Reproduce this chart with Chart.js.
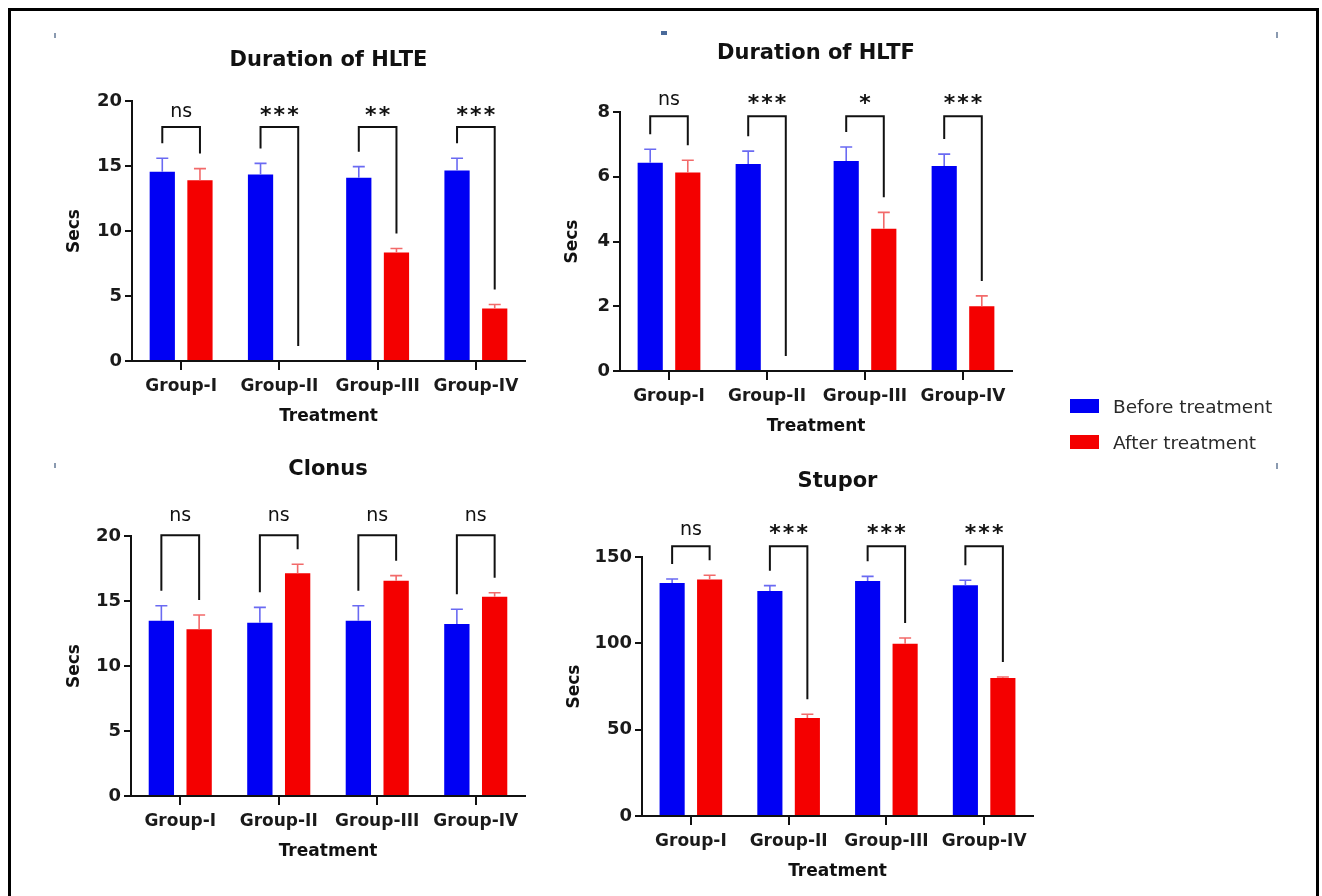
<!DOCTYPE html>
<html>
<head>
<meta charset="utf-8">
<script src="https://cdn.jsdelivr.net/npm/chart.js@4.4.1/dist/chart.umd.min.js"></script>
<style>
  html, body { margin: 0; padding: 0; background: #fff; }
  #page { position: relative; width: 1322px; height: 896px; overflow: hidden; background: #fff; }
  canvas.panel { position: absolute; left: 0; top: 0; }
  .frame { position: absolute; background: #000; }
  .speck { position: absolute; background: #8a9ab0; }
  #legend { position: absolute; left: 1070px; top: 388px; font-family: "DejaVu Sans", sans-serif; font-size: 18.5px; color: #2a2a2a; }
  .lg-row { display: flex; align-items: center; height: 36px; white-space: nowrap; }
  .sw { display: inline-block; width: 29px; height: 14px; margin-right: 14px; }
</style>
</head>
<body>
<div id="page">
  <div class="frame" style="left:8px;top:8px;width:1311px;height:3px"></div>
  <div class="frame" style="left:8px;top:8px;width:3px;height:888px"></div>
  <div class="frame" style="left:1316px;top:8px;width:3px;height:888px"></div>
  <div class="speck" style="left:54px;top:33px;width:2px;height:5px"></div>
  <div class="speck" style="left:661px;top:31px;width:6px;height:4px;background:#4a6a9a"></div>
  <div class="speck" style="left:1276px;top:32px;width:2px;height:6px"></div>
  <div class="speck" style="left:54px;top:463px;width:2px;height:5px"></div>
  <div class="speck" style="left:1276px;top:463px;width:2px;height:6px"></div>
  <canvas id="hlte" class="panel" width="1322" height="896"></canvas>
  <canvas id="hltf" class="panel" width="1322" height="896"></canvas>
  <canvas id="clonus" class="panel" width="1322" height="896"></canvas>
  <canvas id="stupor" class="panel" width="1322" height="896"></canvas>
  <div id="legend"></div>
</div>
<script>
// categories and series
const groups = ['Group-I', 'Group-II', 'Group-III', 'Group-IV'];
const seriesNames = ['Before treatment', 'After treatment'];

// Duration of HLTE (secs), mean and SEM
const hlteBefore = [14.55, 14.35, 14.1, 14.65];
const hlteBeforeSem = [1.05, 0.85, 0.85, 0.95];
const hlteAfter = [13.9, 0, 8.35, 4.03];
const hlteAfterSem = [0.9, 0, 0.3, 0.32];
const hlteSig = ['ns', '***', '**', '***'];

// Duration of HLTF
const hltfBefore = [6.43, 6.39, 6.49, 6.33];
const hltfBeforeSem = [0.42, 0.4, 0.43, 0.37];
const hltfAfter = [6.13, 0, 4.39, 2.0];
const hltfAfterSem = [0.38, 0, 0.51, 0.32];
const hltfSig = ['ns', '***', '*', '***'];

// Clonus
const clonusBefore = [13.48, 13.33, 13.48, 13.23];
const clonusBeforeSem = [1.16, 1.18, 1.16, 1.13];
const clonusAfter = [12.82, 17.13, 16.56, 15.33];
const clonusAfterSem = [1.1, 0.7, 0.39, 0.31];
const clonusSig = ['ns', 'ns', 'ns', 'ns'];

// Stupor
const stuporBefore = [134.9, 130.3, 136.1, 133.6];
const stuporBeforeSem = [2.4, 3.1, 2.7, 2.9];
const stuporAfter = [136.9, 56.8, 99.8, 79.9];
const stuporAfterSem = [2.5, 2.1, 3.3, 0.6];
const stuporSig = ['ns', '***', '***', '***'];

// styles
const barColors = ['#0000f4', '#f40000'];
const errColors = ['#6a6af2', '#f26a6a'];
const ink = '#111';
const yAxisW = 80, xAxisH = 70;

Chart.defaults.font.family = '"DejaVu Sans", sans-serif';

const panels = [
  { id: 'hlte', title: 'Duration of HLTE', means: [hlteBefore, hlteAfter], sem: [hlteBeforeSem, hlteAfterSem],
    sig: hlteSig, max: 20, step: 5, level: 18, labelGap: 16,
    area: { left: 132, top: 101, right: 525, bottom: 361 }, titleY: 60.7, secsX: 75 },
  { id: 'hltf', title: 'Duration of HLTF', means: [hltfBefore, hltfAfter], sem: [hltfBeforeSem, hltfAfterSem],
    sig: hltfSig, max: 8, step: 2, level: 7.87, labelGap: 17,
    area: { left: 620, top: 112, right: 1012, bottom: 371 }, titleY: 53.3, secsX: 573 },
  { id: 'clonus', title: 'Clonus', means: [clonusBefore, clonusAfter], sem: [clonusBeforeSem, clonusAfterSem],
    sig: clonusSig, max: 20, step: 5, level: 20.05, labelGap: 20,
    area: { left: 131, top: 536, right: 525, bottom: 796 }, titleY: 469.3, secsX: 75 },
  { id: 'stupor', title: 'Stupor', means: [stuporBefore, stuporAfter], sem: [stuporBeforeSem, stuporAfterSem],
    sig: stuporSig, max: 150, step: 50, level: 156.2, labelGap: 17,
    area: { left: 642, top: 557, right: 1033, bottom: 816 }, titleY: 481.7, secsX: 575 }
];

// error bars + significance brackets, placed through the chart's own scales
function makeMarks(p) {
  return {
    id: 'marks',
    afterDatasetsDraw(chart) {
      const ctx = chart.ctx, y = chart.scales.y;
      const bars = [chart.getDatasetMeta(0).data, chart.getDatasetMeta(1).data];
      ctx.save();
      ctx.lineCap = 'butt';
      p.sem.forEach((sems, s) => {
        ctx.strokeStyle = errColors[s];
        ctx.lineWidth = 1.6;
        sems.forEach((e, i) => {
          if (!e) return;
          const b = bars[s][i];
          const top = y.getPixelForValue(p.means[s][i] + e);
          ctx.beginPath();
          ctx.moveTo(b.x, b.y);
          ctx.lineTo(b.x, top);
          ctx.moveTo(b.x - 6, top);
          ctx.lineTo(b.x + 6, top);
          ctx.stroke();
        });
      });
      const lev = y.getPixelForValue(p.level);
      ctx.strokeStyle = ink;
      ctx.lineWidth = 2;
      ctx.lineJoin = 'miter';
      p.sig.forEach((txt, i) => {
        const xb = bars[0][i].x, xa = bars[1][i].x;
        const lb = y.getPixelForValue(p.means[0][i] + p.sem[0][i]) - 15;
        const la = y.getPixelForValue(p.means[1][i] + p.sem[1][i]) - 15;
        ctx.beginPath();
        ctx.moveTo(xb, lb);
        ctx.lineTo(xb, lev);
        ctx.lineTo(xa, lev);
        ctx.lineTo(xa, la);
        ctx.stroke();
        const star = txt !== 'ns';
        ctx.font = star ? 'bold 22px "DejaVu Sans"' : '19px "DejaVu Sans"';
        ctx.letterSpacing = star ? '2px' : '0px';
        ctx.textAlign = 'center';
        ctx.textBaseline = 'alphabetic';
        ctx.fillStyle = ink;
        const m = ctx.measureText(txt);
        const cy = lev - p.labelGap;
        ctx.fillText(txt, (xb + xa) / 2 + (star ? 1 : 0), cy + (m.actualBoundingBoxAscent - m.actualBoundingBoxDescent) / 2);
      });
      ctx.restore();
    }
  };
}

function buildChart(p) {
  const a = p.area;
  new Chart(document.getElementById(p.id), {
    type: 'bar',
    data: {
      labels: groups,
      datasets: seriesNames.map((name, s) => ({
        label: name,
        data: p.means[s],
        backgroundColor: barColors[s],
        borderWidth: 0,
        categoryPercentage: 0.767,
        barPercentage: 0.67
      }))
    },
    options: {
      responsive: false,
      animation: false,
      layout: {
        padding: { left: a.left - yAxisW, right: 1322 - a.right, top: p.titleY - 12.6, bottom: 896 - a.bottom - xAxisH }
      },
      plugins: {
        legend: { display: false },
        tooltip: { enabled: false },
        title: {
          display: true, text: p.title, fullSize: false, color: ink,
          font: { size: 21, weight: 'bold' },
          padding: { top: 0, bottom: a.top - 12.6 - p.titleY }
        }
      },
      scales: {
        x: {
          offset: true,
          grid: { offset: false, drawOnChartArea: false, drawTicks: true, tickLength: 9, tickWidth: 2, tickColor: ink, color: ink, lineWidth: 2 },
          border: { display: true, color: ink, width: 2 },
          ticks: { color: '#1a1a1a', font: { size: 17, weight: 'bold' }, padding: 6, maxRotation: 0, autoSkip: false },
          title: { display: true, text: 'Treatment', color: ink, font: { size: 17, weight: 'bold' }, padding: { top: 0, bottom: xAxisH - 56 - 10.2 } },
          afterFit: s => { s.height = xAxisH; }
        },
        y: {
          min: 0, max: p.max,
          ticks: { stepSize: p.step, color: '#1a1a1a', font: { size: 18, weight: 'bold' }, padding: 3 },
          grid: { drawOnChartArea: false, drawTicks: true, tickLength: 7, tickWidth: 2, tickColor: ink, color: ink, lineWidth: 2 },
          border: { display: true, color: ink, width: 2 },
          title: { display: true, text: 'Secs', color: ink, font: { size: 17, weight: 'bold' }, padding: { top: p.secsX - (a.left - yAxisW) - 10.2, bottom: 0 } },
          afterFit: s => { s.width = yAxisW; }
        }
      }
    },
    plugins: [makeMarks(p)]
  });
}

panels.forEach(buildChart);

// shared legend built from the series
const legend = document.getElementById('legend');
seriesNames.forEach((name, s) => {
  const row = document.createElement('div');
  row.className = 'lg-row';
  const sw = document.createElement('span');
  sw.className = 'sw';
  sw.style.background = barColors[s];
  const label = document.createElement('span');
  label.textContent = name;
  row.appendChild(sw);
  row.appendChild(label);
  legend.appendChild(row);
});
</script>
</body>
</html>
